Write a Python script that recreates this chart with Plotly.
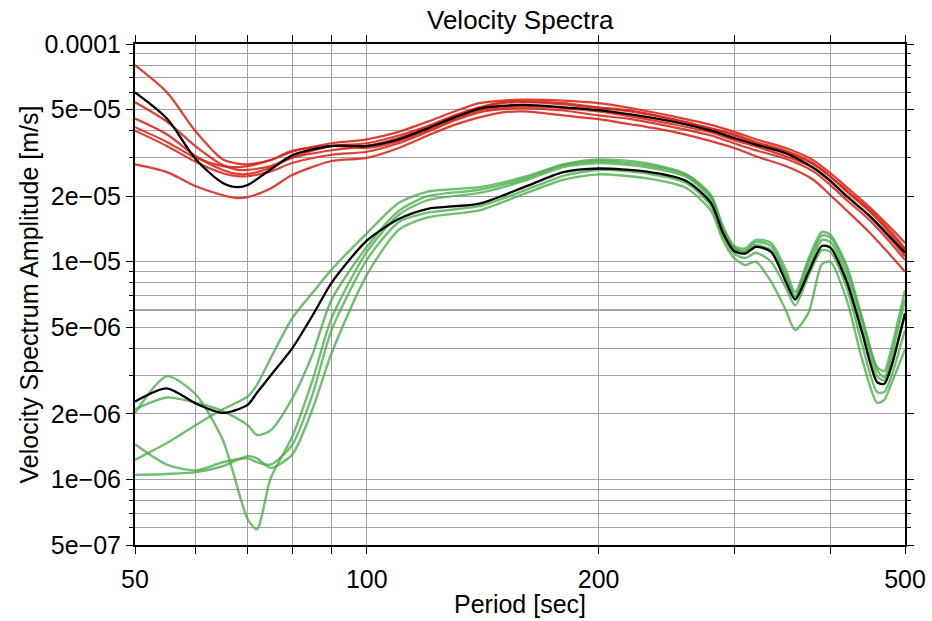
import plotly.graph_objects as go

# ---------------- data ----------------
period_red = [50, 55, 60, 65, 68, 70, 75, 80, 90, 100, 110, 120, 130, 140, 150, 160,
              180, 200, 220, 250, 280, 300, 320, 350, 380, 400, 420, 450, 480, 500]

red_mean = [6.0e-5, 4.55e-5, 2.95e-5, 2.3e-5, 2.2e-5, 2.25e-5, 2.65e-5, 3.08e-5, 3.4e-5, 3.4e-5,
            3.65e-5, 4.1e-5, 4.6e-5, 5.05e-5, 5.2e-5, 5.25e-5, 5.12e-5, 4.97e-5, 4.75e-5, 4.4e-5,
            4.0e-5, 3.7e-5, 3.45e-5, 3.15e-5, 2.7e-5, 2.35e-5, 2.0e-5, 1.62e-5, 1.28e-5, 1.1e-5]

red_1 = [8.0e-5, 6.0e-5, 3.95e-5, 2.95e-5, 2.82e-5, 2.8e-5, 2.93e-5, 3.2e-5, 3.5e-5, 3.65e-5,
         3.95e-5, 4.4e-5, 4.9e-5, 5.35e-5, 5.5e-5, 5.55e-5, 5.5e-5, 5.35e-5, 5.08e-5, 4.65e-5,
         4.25e-5, 3.95e-5, 3.65e-5, 3.33e-5, 2.93e-5, 2.55e-5, 2.2e-5, 1.78e-5, 1.42e-5, 1.22e-5]
red_2 = [5.4e-5, 4.4e-5, 3.38e-5, 2.78e-5, 2.64e-5, 2.64e-5, 2.75e-5, 3.0e-5, 3.25e-5, 3.4e-5,
         3.7e-5, 4.15e-5, 4.65e-5, 5.08e-5, 5.35e-5, 5.4e-5, 5.28e-5, 5.08e-5, 4.9e-5, 4.5e-5,
         4.08e-5, 3.8e-5, 3.5e-5, 3.2e-5, 2.8e-5, 2.45e-5, 2.1e-5, 1.7e-5, 1.33e-5, 1.13e-5]
red_3 = [4.55e-5, 3.85e-5, 3.05e-5, 2.64e-5, 2.53e-5, 2.53e-5, 2.7e-5, 3.02e-5, 3.4e-5, 3.5e-5,
         3.8e-5, 4.2e-5, 4.7e-5, 5.12e-5, 5.4e-5, 5.45e-5, 5.35e-5, 5.12e-5, 4.95e-5, 4.52e-5,
         4.1e-5, 3.85e-5, 3.55e-5, 3.23e-5, 2.84e-5, 2.47e-5, 2.13e-5, 1.73e-5, 1.37e-5, 1.15e-5]
red_4 = [4.15e-5, 3.55e-5, 3.0e-5, 2.75e-5, 2.72e-5, 2.75e-5, 2.93e-5, 3.23e-5, 3.4e-5, 3.33e-5,
         3.58e-5, 4.02e-5, 4.52e-5, 4.95e-5, 5.12e-5, 5.18e-5, 5.08e-5, 4.9e-5, 4.65e-5, 4.28e-5,
         3.92e-5, 3.62e-5, 3.38e-5, 3.05e-5, 2.7e-5, 2.34e-5, 2.0e-5, 1.62e-5, 1.26e-5, 1.06e-5]
red_5 = [4.0e-5, 3.4e-5, 2.87e-5, 2.55e-5, 2.47e-5, 2.47e-5, 2.6e-5, 2.84e-5, 3.1e-5, 3.2e-5,
         3.5e-5, 3.95e-5, 4.45e-5, 4.85e-5, 5.02e-5, 5.08e-5, 4.95e-5, 4.7e-5, 4.52e-5, 4.15e-5,
         3.8e-5, 3.5e-5, 3.25e-5, 2.97e-5, 2.6e-5, 2.25e-5, 1.92e-5, 1.55e-5, 1.21e-5, 1.02e-5]
red_6 = [2.8e-5, 2.58e-5, 2.22e-5, 2.02e-5, 1.96e-5, 1.98e-5, 2.17e-5, 2.5e-5, 2.9e-5, 3.0e-5,
         3.33e-5, 3.8e-5, 4.25e-5, 4.6e-5, 4.85e-5, 4.9e-5, 4.7e-5, 4.52e-5, 4.28e-5, 3.95e-5,
         3.58e-5, 3.33e-5, 3.05e-5, 2.75e-5, 2.38e-5, 2.02e-5, 1.72e-5, 1.36e-5, 1.06e-5, 9.0e-6]

period_green = [50, 55, 60, 65, 70, 72, 75, 80, 85, 90, 100, 110, 120, 140, 160, 180, 200, 230,
                260, 280, 290, 300, 310, 320, 335, 350, 360, 375, 390, 400, 420, 440, 460, 470,
                480, 500]

green_mean = [2.28e-6, 2.62e-6, 2.23e-6, 2.02e-6, 2.2e-6, 2.5e-6, 3.0e-6, 4.0e-6, 5.65e-6, 8.0e-6,
              1.25e-5, 1.57e-5, 1.75e-5, 1.85e-5, 2.2e-5, 2.58e-5, 2.68e-5, 2.6e-5, 2.35e-5, 1.86e-5,
              1.36e-5, 1.12e-5, 1.09e-5, 1.17e-5, 1.11e-5, 8.1e-6, 6.7e-6, 9.0e-6, 1.18e-5, 1.16e-5,
              8.1e-6, 4.7e-6, 2.8e-6, 2.75e-6, 3.3e-6, 5.8e-6]

green_1 = [2.02e-6, 2.98e-6, 2.45e-6, 1.52e-6, 6.6e-7, 5.9e-7, 1.01e-6, 1.57e-6, 2.85e-6, 5.5e-6,
           1.11e-5, 1.64e-5, 1.92e-5, 2.07e-5, 2.35e-5, 2.72e-5, 2.84e-5, 2.72e-5, 2.45e-5, 1.94e-5,
           1.41e-5, 1.16e-5, 1.12e-5, 1.23e-5, 1.18e-5, 8.7e-6, 6.95e-6, 1.0e-5, 1.32e-5, 1.29e-5,
           9.2e-6, 5.4e-6, 3.18e-6, 2.95e-6, 3.7e-6, 6.7e-6]
green_2 = [2.1e-6, 2.38e-6, 2.25e-6, 2.06e-6, 1.78e-6, 1.6e-6, 1.68e-6, 2.35e-6, 3.75e-6, 6.7e-6,
           1.17e-5, 1.71e-5, 2.0e-5, 2.14e-5, 2.4e-5, 2.78e-5, 2.9e-5, 2.78e-5, 2.5e-5, 2.0e-5,
           1.46e-5, 1.18e-5, 1.15e-5, 1.26e-5, 1.22e-5, 9.2e-6, 7.25e-6, 1.04e-5, 1.37e-5, 1.33e-5,
           9.6e-6, 5.5e-6, 3.28e-6, 3.15e-6, 4.0e-6, 7.4e-6]
green_3 = [1.23e-6, 1.47e-6, 1.78e-6, 2.1e-6, 2.4e-6, 2.72e-6, 3.6e-6, 5.5e-6, 7.2e-6, 9.2e-6,
           1.35e-5, 1.86e-5, 2.1e-5, 2.2e-5, 2.45e-5, 2.8e-5, 2.95e-5, 2.84e-5, 2.52e-5, 2.02e-5,
           1.42e-5, 1.15e-5, 1.11e-5, 1.19e-5, 1.13e-5, 8.45e-6, 6.85e-6, 9.4e-6, 1.26e-5, 1.23e-5,
           8.6e-6, 4.95e-6, 2.98e-6, 2.85e-6, 3.45e-6, 5.7e-6]
green_4 = [1.45e-6, 1.17e-6, 1.1e-6, 1.2e-6, 1.25e-6, 1.2e-6, 1.17e-6, 1.44e-6, 2.45e-6, 4.85e-6,
           1.02e-5, 1.52e-5, 1.68e-5, 1.8e-5, 2.12e-5, 2.48e-5, 2.64e-5, 2.55e-5, 2.3e-5, 1.8e-5,
           1.32e-5, 1.09e-5, 1.04e-5, 1.1e-5, 1.0e-5, 7.6e-6, 6.3e-6, 8.7e-6, 1.13e-5, 1.11e-5,
           7.6e-6, 4.15e-6, 2.52e-6, 2.52e-6, 2.98e-6, 4.85e-6]
green_5 = [1.05e-6, 1.06e-6, 1.08e-6, 1.15e-6, 1.28e-6, 1.25e-6, 1.13e-6, 1.3e-6, 2.1e-6, 3.8e-6,
           8.7e-6, 1.4e-5, 1.6e-5, 1.72e-5, 2.05e-5, 2.38e-5, 2.52e-5, 2.42e-5, 2.18e-5, 1.71e-5,
           1.26e-5, 1.04e-5, 9.65e-6, 1.0e-5, 8.1e-6, 6.0e-6, 4.85e-6, 5.87e-6, 9.75e-6, 1.0e-5,
           6.7e-6, 3.55e-6, 2.25e-6, 2.32e-6, 2.75e-6, 3.95e-6]

x_tickvals = [50, 60, 70, 80, 90, 100, 200, 300, 400, 500]
x_ticktext = ["50", "", "", "", "", "100", "200", "", "", "500"]
y_tickvals = [1e-4, 5e-5, 2e-5, 1e-5, 5e-6, 2e-6, 1e-6, 5e-7]
y_ticktext = ["0.0001", "5e\u221205", "2e\u221205", "1e\u221205", "5e\u221206", "2e\u221206",
              "1e\u221206", "5e\u221207"]
y_minorvals = [9e-5, 8e-5, 7e-5, 6e-5, 4e-5, 3e-5, 9e-6, 8e-6, 7e-6, 6e-6, 4e-6, 3e-6,
               9e-7, 8e-7, 7e-7, 6e-7]

title_text = "Velocity Spectra"
x_title = "Period [sec]"
y_title = "Velocity Spectrum Amplitude [m/s]"

# ---------------- figure ----------------
RED = "rgba(218,36,24,0.88)"
GREEN = "rgba(72,172,72,0.78)"
FONT = "Liberation Sans, Arial, Helvetica, sans-serif"

fig = go.Figure()

for series in [red_1, red_2, red_3, red_4, red_5, red_6]:
    fig.add_trace(go.Scatter(x=period_red, y=series, mode="lines",
                             line=dict(color=RED, width=2.2, shape="spline", smoothing=0.8),
                             showlegend=False, hoverinfo="skip"))
for series in [green_1, green_2, green_3, green_4, green_5]:
    fig.add_trace(go.Scatter(x=period_green, y=series, mode="lines",
                             line=dict(color=GREEN, width=2.4, shape="spline", smoothing=0.7),
                             showlegend=False, hoverinfo="skip"))
fig.add_trace(go.Scatter(x=period_red, y=red_mean, mode="lines",
                         line=dict(color="black", width=2.3, shape="spline", smoothing=0.8),
                         showlegend=False, hoverinfo="skip"))
fig.add_trace(go.Scatter(x=period_green, y=green_mean, mode="lines",
                         line=dict(color="black", width=2.3, shape="spline", smoothing=0.7),
                         showlegend=False, hoverinfo="skip"))

GRID = "#a2a2a2"
fig.update_xaxes(type="log", range=[1.69897, 2.69897], automargin=False,
                 tickmode="array", tickvals=x_tickvals, ticktext=x_ticktext,
                 ticks="outside", ticklen=7, tickwidth=1, tickcolor="black",
                 ticklabelstandoff=4,
                 showline=True, linewidth=2, linecolor="black", mirror="allticks",
                 showgrid=True, gridcolor=GRID, gridwidth=1, zeroline=False,
                 tickfont=dict(family=FONT, size=25, color="black"))
fig.update_yaxes(type="log", range=[-6.30103, -4.0], automargin=False,
                 tickmode="array", tickvals=y_tickvals, ticktext=y_ticktext,
                 ticks="outside", ticklen=7, tickwidth=1, tickcolor="black",
                 showline=True, linewidth=2, linecolor="black", mirror="allticks",
                 showgrid=True, gridcolor=GRID, gridwidth=1, zeroline=False,
                 minor=dict(tickvals=y_minorvals, ticks="outside", ticklen=4, tickwidth=1,
                            tickcolor="black", showgrid=True, gridcolor=GRID, gridwidth=1),
                 tickfont=dict(family=FONT, size=25, color="black"))

# darker horizontal line visible in the reference at 6e-06
fig.add_shape(type="line", xref="paper", x0=0, x1=1, yref="y", y0=6e-6, y1=6e-6,
              line=dict(color="#505050", width=1), layer="below")

fig.update_layout(
    width=932, height=621,
    margin=dict(l=135, r=27, t=44, b=76),
    paper_bgcolor="white", plot_bgcolor="white",
    font=dict(family=FONT, color="black"),
    annotations=[
        dict(text=title_text, xref="paper", yref="paper", x=0.5, y=1, yshift=24,
             showarrow=False, font=dict(size=26, family=FONT, color="black"), yanchor="middle"),
        dict(text=x_title, xref="paper", yref="paper", x=0.5, y=0, yshift=-59,
             showarrow=False, font=dict(size=25, family=FONT, color="black"), yanchor="middle"),
        dict(text=y_title, xref="paper", yref="paper", x=0, xshift=-107, y=0.5,
             textangle=-90, showarrow=False, font=dict(size=25, family=FONT, color="black"),
             xanchor="center"),
    ],
)

fig.write_html("out.html", config={"displayModeBar": False},
               post_script="document.body.style.margin='0px';document.body.style.overflow='hidden';")
